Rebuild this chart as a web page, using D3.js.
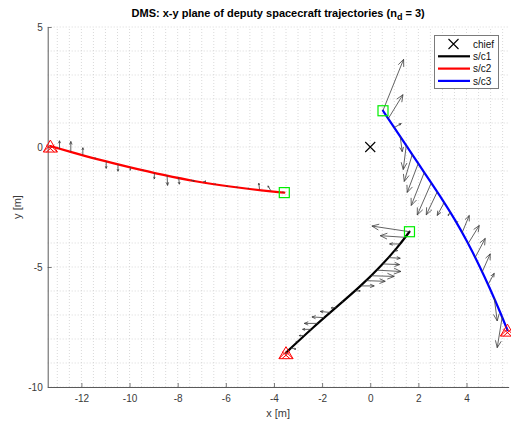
<!DOCTYPE html>
<html>
<head>
<meta charset="utf-8">
<script src="https://cdn.jsdelivr.net/npm/d3@7"></script>
<style>
  html, body { margin: 0; padding: 0; background: #fff; }
  svg { display: block; font-family: "Liberation Sans", Arial, Helvetica, sans-serif; }
</style>
</head>
<body>
<svg id="chart" width="511" height="425"></svg>
<script>
// Axis ticks
const xTicks = [-12, -10, -8, -6, -4, -2, 0, 2, 4];
const yTicks = [-10, -5, 0, 5];

// Trajectory paths (x, y in metres)
const sc1X = [-3.50, -2.35, -1.38, -0.42, 0.42, 1.11, 1.63];
const sc1Y = [-8.57, -7.49, -6.65, -5.82, -4.99, -4.22, -3.53];
const sc2X = [-13.29, -12.46, -11.35, -9.97, -8.59, -7.20, -5.82, -4.43, -3.57];
const sc2Y = [0.04, -0.20, -0.51, -0.85, -1.17, -1.45, -1.65, -1.82, -1.90];
const sc3X = [0.53, 1.0, 1.5, 2.0, 2.5, 3.0, 3.5, 4.0, 4.5, 5.0, 5.4, 5.70];
const sc3Y = [1.51, 0.805, 0.055, -0.695, -1.445, -2.195, -2.99, -3.885, -4.87, -5.955, -6.885, -7.63];

// Control vectors along each path: base (qx, qy) and components (qu, qv)
const sc1QX = [1.634, 1.454, 1.246, 0.997, 0.762, 0.526, 0.277, 0.042, -0.166, -0.388, -0.623, -1.136, -1.413, -1.662, -1.911, -2.188, -2.465, -2.742, -3.019, -3.296];
const sc1QY = [-3.53, -3.764, -4.04, -4.346, -4.608, -4.872, -5.131, -5.364, -5.569, -5.788, -5.995, -6.439, -6.679, -6.894, -7.110, -7.350, -7.598, -7.858, -8.118, -8.378];
const sc1QU = [-1.565, -1.039, -0.443, 0.14, 0.485, 0.692, 0.997, 0.956, 0.789, 0.554, 0.208, -0.07, -0.208, -0.415, -0.512, -0.554, -0.346, -0.208, -0.07, 0.208];
const sc1QV = [0.236, 0.069, 0, 0.03, -0.028, -0.028, -0.056, -0.028, -0.028, 0, 0, 0, -0.028, 0.042, 0.028, 0, 0, 0, 0.014, -0.042];

const sc2QX = [-12.91, -12.44, -11.94, -11.43, -10.97, -10.48, -9.97, -9.44, -8.97, -8.44, -7.96, -7.45, -6.95, -6.44, -5.95, -5.54, -5.06, -4.60, -4.13, -3.63];
const sc2QY = [-0.07, -0.19, -0.32, -0.46, -0.60, -0.72, -0.85, -0.97, -1.08, -1.18, -1.26, -1.38, -1.46, -1.54, -1.61, -1.67, -1.72, -1.76, -1.82, -1.88];
const sc2QU = [0, 0, 0, 0, 0, 0, 0, 0, 0, 0.02, 0.03, 0.14, 0.12, 0.03, 0, 0.02, 0.02, -0.03, -0.12, 0.02];
const sc2QV = [0.33, 0.42, 0.29, 0.02, -0.29, -0.29, -0.12, -0.03, -0.25, -0.42, -0.29, -0.04, 0.04, 0, -0.05, 0, 0, 0.25, 0.2, 0];

const sc3QX = [0.527, 0.748, 0.997, 1.246, 1.496, 1.745, 1.994, 2.244, 2.535, 2.784, 3.075, 3.324, 3.594, 3.822, 4.071, 4.362, 4.653, 4.902, 5.151, 5.484];
const sc3QY = [1.514, 1.18, 0.81, 0.43, 0.06, -0.31, -0.685, -1.06, -1.50, -1.87, -2.31, -2.69, -3.15, -3.56, -4.02, -4.60, -5.20, -5.72, -6.29, -7.07];
const sc3QU = [0.859, 0.611, 0.291, 0.083, -0.125, -0.332, -0.457, -0.540, -0.582, -0.457, -0.291, -0.083, 0.04, 0.291, 0.457, 0.415, 0.332, 0.249, 0.125, -0.208];
const sc3QV = [2.139, 1.0, 0.167, -0.625, -1.0, -1.125, -1.208, -1.375, -1.333, -0.958, -0.542, -0.167, 0.04, 0.708, 0.75, 0.792, 0.75, 0.458, -0.958, -1.292];

// Chief position
const chiefX = [0];
const chiefY = [0];

const seriesNames = ["chief", "s/c1", "s/c2", "s/c3"];

const svg = d3.select("#chart");
const x = d3.scaleLinear().domain([-13.4, 5.75]).range([47.7, 47.7 + 19.15 * 24.07]);
const y = d3.scaleLinear().domain([-10, 5]).range([387, 27]);
const [x0, x1] = x.range();
const [y0, y1] = y.range();

// Dotted grid (major + minor)
const gridX = d3.range(-13, 5.76, 0.5);
const gridY = d3.range(-10, 5.01, 1);
const grid = svg.append("g").attr("stroke", "#cfcfcf").attr("stroke-width", 0.8).attr("stroke-dasharray", "1,2");
grid.selectAll("line.gx").data(gridX).join("line")
  .attr("x1", d => x(d)).attr("x2", d => x(d)).attr("y1", y0).attr("y2", y1);
grid.selectAll("line.gy").data(gridY).join("line")
  .attr("x1", x0).attr("x2", x1).attr("y1", d => y(d)).attr("y2", d => y(d));

// Axes
const axisColor = "#5a5a5a";
const gx = svg.append("g").attr("transform", `translate(0,${y0})`)
  .call(d3.axisBottom(x).tickValues(xTicks).tickSizeInner(-4).tickSizeOuter(0).tickPadding(8)
    .tickFormat(d => d3.format("d")(d).replace("−", "-")));
const gy = svg.append("g").attr("transform", `translate(${x0},0)`)
  .call(d3.axisLeft(y).tickValues(yTicks).tickSizeInner(-4).tickSizeOuter(0).tickPadding(5)
    .tickFormat(d => d3.format("d")(d).replace("−", "-")));
[gx, gy].forEach(g => {
  g.select(".domain").attr("stroke", axisColor).attr("stroke-width", 1);
  g.selectAll(".tick line").attr("stroke", axisColor).attr("stroke-width", 0.8);
  g.selectAll(".tick text").attr("fill", "#3a3a3a").style("font-size", "10px")
    .style("font-family", "'Liberation Sans', Arial, sans-serif");
});

// Axis labels and title
svg.append("text").attr("x", (x0 + x1) / 2).attr("y", 417).attr("text-anchor", "middle")
  .attr("fill", "#3a3a3a").style("font-size", "11px").text("x [m]");
svg.append("text").attr("transform", `translate(21,${(y0 + y1) / 2}) rotate(-90)`)
  .attr("text-anchor", "middle").attr("fill", "#3a3a3a").style("font-size", "11px").text("y [m]");
const title = svg.append("text").attr("x", (x0 + x1) / 2).attr("y", 17).attr("text-anchor", "middle")
  .attr("fill", "#000").style("font-size", "11px").style("font-weight", "bold");
title.append("tspan").text("DMS: x-y plane of deputy spacecraft trajectories (n");
title.append("tspan").attr("dy", 3).style("font-size", "9px").text("d");
title.append("tspan").attr("dy", -3).text(" = 3)");

// Trajectories (smoothed through the sampled points)
const line = d3.line().x(d => x(d[0])).y(d => y(d[1])).curve(d3.curveBasis);
const tracks = [
  { xs: sc1X, ys: sc1Y, color: "#000000" },
  { xs: sc2X, ys: sc2Y, color: "#ff0000" },
  { xs: sc3X, ys: sc3Y, color: "#0000ff" }
];
svg.append("g").selectAll("path").data(tracks).join("path")
  .attr("d", t => line(t.xs.map((v, i) => [v, t.ys[i]])))
  .attr("fill", "none").attr("stroke", t => t.color).attr("stroke-width", 2.2)
  .attr("stroke-linecap", "round");

// Control vectors as arrows
const quivers = [
  [sc1QX, sc1QY, sc1QU, sc1QV],
  [sc2QX, sc2QY, sc2QU, sc2QV],
  [sc3QX, sc3QY, sc3QU, sc3QV]
];
const arrows = [];
quivers.forEach(([qx, qy, qu, qv]) => {
  qx.forEach((v, i) => arrows.push({ x: v, y: qy[i], u: qu[i], v: qv[i] }));
});
function arrowPath(a) {
  const bx = x(a.x), by = y(a.y);
  const hx = x(a.x + a.u), hy = y(a.y + a.v);
  const dx = hx - bx, dy = hy - by;
  const L = Math.hypot(dx, dy);
  if (L < 0.8) return `M${bx - 0.7},${by}L${bx + 0.7},${by}`;
  const ux = dx / L, uy = dy / L;
  const hl = Math.min(0.3 * L, 7), hw = hl * 0.42;
  const px = -uy, py = ux;
  const ax = hx - ux * hl, ay = hy - uy * hl;
  return `M${bx},${by}L${hx},${hy}` +
    `M${ax + px * hw},${ay + py * hw}L${hx},${hy}L${ax - px * hw},${ay - py * hw}`;
}
svg.append("g").selectAll("path").data(arrows).join("path")
  .attr("d", arrowPath).attr("fill", "none").attr("stroke", "#3c3c3c")
  .attr("stroke-width", 0.8).attr("stroke-linejoin", "miter");

// Start (triangle) and end (square) markers
const starts = [[sc1X[0], sc1Y[0]], [sc2X[0], sc2Y[0]], [sc3X[sc3X.length - 1], sc3Y[sc3Y.length - 1]]];
const ends = [[sc1X[sc1X.length - 1], sc1Y[sc1Y.length - 1]], [sc2X[sc2X.length - 1], sc2Y[sc2Y.length - 1]], [sc3X[0], sc3Y[0]]];
const tri = svg.append("g").attr("fill", "none").attr("stroke", "#ff0000").attr("stroke-width", 1);
starts.forEach(([sx, sy]) => {
  const cx = x(sx), cy = y(sy), w = 7, h = 6;
  tri.append("path").attr("d", `M${cx},${cy - h}L${cx + w},${cy + h}L${cx - w},${cy + h}Z`);
  tri.append("path").attr("d", `M${cx - 4},${cy - 1}L${cx + 4},${cy + 6}M${cx + 4},${cy - 1}L${cx - 4},${cy + 6}M${cx - 7},${cy + 6}L${cx},${cy - 1}L${cx + 7},${cy + 6}`);
});
svg.append("g").selectAll("rect").data(ends).join("rect")
  .attr("x", d => x(d[0]) - 5).attr("y", d => y(d[1]) - 5).attr("width", 10).attr("height", 10)
  .attr("fill", "none").attr("stroke", "#00ee00").attr("stroke-width", 1.2);

// Chief
const cross = (cx, cy, s) => `M${cx - s},${cy - s}L${cx + s},${cy + s}M${cx + s},${cy - s}L${cx - s},${cy + s}`;
svg.append("g").selectAll("path").data(chiefX.map((v, i) => [v, chiefY[i]])).join("path")
  .attr("d", d => cross(x(d[0]), y(d[1]), 5)).attr("stroke", "#000").attr("stroke-width", 1.1);

// Legend
const lg = svg.append("g");
lg.append("rect").attr("x", 434.5).attr("y", 35.5).attr("width", 64).attr("height", 53)
  .attr("fill", "#fff").attr("stroke", "#7a7a7a").attr("stroke-width", 1);
const legendColors = [null, "#000000", "#ff0000", "#0000ff"];
const rowY = [44, 56.3, 68.6, 80.9];
seriesNames.forEach((name, i) => {
  if (i === 0) {
    lg.append("path").attr("d", cross(453.5, rowY[i], 5)).attr("stroke", "#000").attr("stroke-width", 1.1);
  } else {
    lg.append("line").attr("x1", 438).attr("x2", 470).attr("y1", rowY[i]).attr("y2", rowY[i])
      .attr("stroke", legendColors[i]).attr("stroke-width", 2.2);
  }
  lg.append("text").attr("x", 473).attr("y", rowY[i] + 3.6).attr("fill", "#111")
    .style("font-size", "10px").text(name);
});
</script>
</body>
</html>
